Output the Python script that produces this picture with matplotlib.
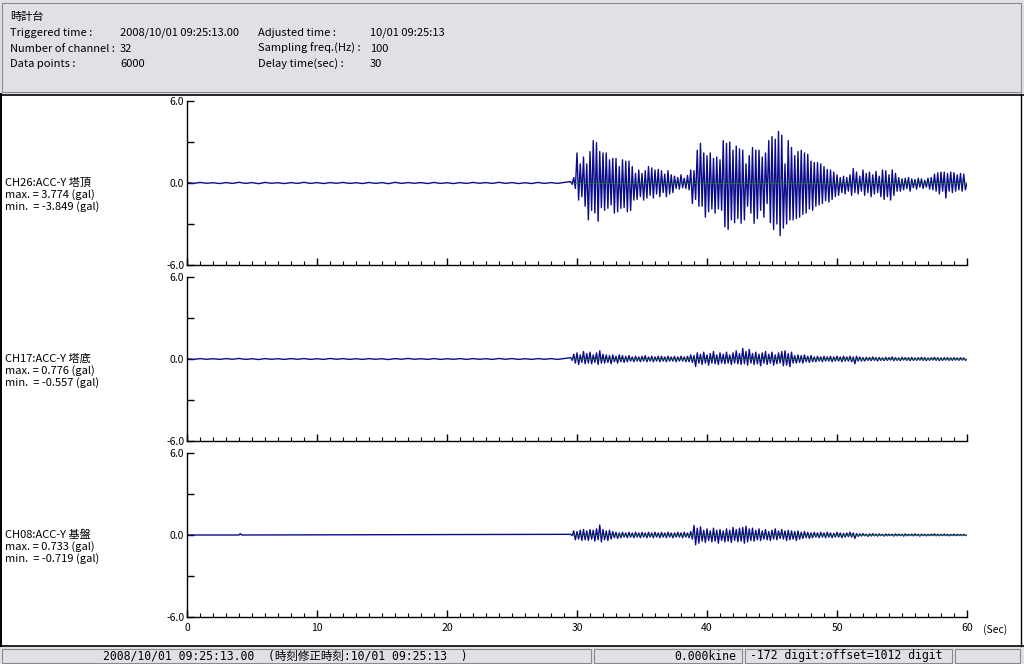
import numpy as np
import matplotlib.pyplot as plt
from matplotlib.patches import Rectangle
from matplotlib.lines import Line2D

plt.rcParams['font.family'] = ['Noto Sans CJK JP', 'DejaVu Sans']
plt.rcParams['axes.unicode_minus'] = False

W, H = 1024, 664

# ---- data (gal) ----
# quiet part before trigger: hi/lo pairs every 1 s starting at 0 s
top_quiet_hi = [0.03, 0.04, 0.02, 0.03, 0.05, 0.03, 0.04, 0.02, 0.03, 0.05,
                0.03, 0.03, 0.04, 0.02, 0.04, 0.03, 0.05, 0.03, 0.03, 0.04,
                0.02, 0.03, 0.04, 0.03, 0.05, 0.03, 0.02, 0.04, 0.03, 0.04]
top_quiet_lo = [-0.03, -0.02, -0.04, -0.03, -0.03, -0.05, -0.02, -0.04, -0.03, -0.03,
                -0.04, -0.02, -0.03, -0.04, -0.03, -0.05, -0.03, -0.02, -0.04, -0.03,
                -0.04, -0.03, -0.02, -0.03, -0.03, -0.04, -0.04, -0.03, -0.03, -0.05]
mid_quiet_hi = [0.02, 0.03, 0.02, 0.03, 0.04, 0.02, 0.03, 0.02, 0.03, 0.03,
                0.02, 0.04, 0.03, 0.02, 0.03, 0.02, 0.03, 0.04, 0.02, 0.03,
                0.02, 0.03, 0.03, 0.02, 0.04, 0.03, 0.02, 0.03, 0.03, 0.03]
mid_quiet_lo = [-0.03, -0.02, -0.03, -0.02, -0.03, -0.04, -0.02, -0.03, -0.02, -0.03,
                -0.03, -0.02, -0.03, -0.03, -0.02, -0.04, -0.02, -0.02, -0.03, -0.03,
                -0.02, -0.03, -0.02, -0.03, -0.02, -0.03, -0.03, -0.02, -0.03, -0.04]
bot_quiet_t = [0.0, 4.0, 4.1, 4.2, 29.5]
bot_quiet_v = [0.0, 0.0, 0.1, 0.0, 0.0]

# strong motion: hi/lo per 0.25 s cycle from 29.5 s to 60 s
t_trig = 29.5
top_hi = [0.1, 0.4, 2.2, 1.4, 1.9, 1.4, 2.3, 3.1, 2.95, 2.3,
          2.2, 2.2, 1.7, 1.8, 1.8, 1.2, 1.7, 1.6, 1.6, 1.2,
          0.7, 0.95, 0.7, 0.9, 1.2, 1.1, 0.95, 1.0, 0.9, 0.65,
          0.9, 0.6, 0.5, 0.4, 0.6, 0.35, 0.55, 0.95, 0.9, 2.4,
          2.9, 2.2, 2.0, 2.2, 1.8, 1.9, 1.7, 3.1, 2.9, 3.0,
          2.4, 2.7, 2.5, 2.4, 1.4, 2.0, 2.6, 2.4, 2.4, 1.9,
          2.2, 3.1, 3.4, 3.2, 3.77, 3.5, 1.4, 3.1, 2.6, 2.0,
          2.3, 2.4, 2.2, 2.1, 1.6, 1.5, 1.5, 1.4, 1.2, 1.0,
          0.95, 0.8, 0.6, 0.4, 0.5, 0.4, 0.6, 1.05, 0.8, 0.5,
          0.95, 0.7, 0.8, 0.6, 0.85, 0.5, 0.95, 0.9, 0.6, 0.95,
          0.7, 0.4, 0.3, 0.35, 0.4, 0.3, 0.25, 0.35, 0.3, 0.2,
          0.35, 0.4, 0.65, 0.75, 0.8, 0.8, 0.7, 0.8, 0.75, 0.6,
          0.7, 0.65]
top_lo = [-0.1, -0.4, -1.25, -1.0, -1.7, -2.7, -2.0, -2.2, -2.8, -1.8,
          -2.0, -1.85, -1.6, -2.2, -2.1, -1.85, -1.8, -2.1, -2.0, -1.25,
          -1.2, -1.0, -1.25, -1.1, -0.9, -1.1, -0.8, -1.0, -0.7, -1.0,
          -0.8, -0.7, -0.4, -0.45, -0.35, -0.4, -0.5, -1.5, -1.2, -1.7,
          -1.7, -2.5, -2.1, -1.9, -2.2, -1.9, -2.0, -3.2, -3.4, -2.7,
          -2.9, -2.6, -2.95, -2.7, -1.7, -2.2, -2.95, -2.6, -2.0, -2.5,
          -1.5, -2.9, -3.4, -3.0, -3.85, -3.3, -3.0, -2.7, -2.7, -2.6,
          -2.5, -2.3, -2.2, -1.9, -2.0, -1.7, -1.6, -1.5, -1.3, -1.4,
          -1.2, -1.0, -0.9, -0.7, -0.8, -0.6, -0.9, -0.7, -0.8, -0.6,
          -0.9, -0.7, -1.0, -0.8, -0.7, -1.0, -1.2, -1.0, -1.25, -0.9,
          -0.6, -0.6, -0.5, -0.4, -0.6, -0.35, -0.45, -0.3, -0.4, -0.3,
          -0.45, -0.5, -0.6, -0.8, -0.6, -1.1, -0.6, -0.7, -0.6, -0.5,
          -0.6, -0.5]
mid_hi = [0.1, 0.35, 0.45, 0.3, 0.55, 0.4, 0.5, 0.3, 0.45, 0.6,
          0.35, 0.3, 0.25, 0.3, 0.2, 0.3, 0.25, 0.2, 0.25, 0.15,
          0.2, 0.15, 0.2, 0.25, 0.15, 0.2, 0.15, 0.2, 0.2, 0.15,
          0.2, 0.15, 0.2, 0.15, 0.2, 0.15, 0.2, 0.3, 0.25, 0.45,
          0.35, 0.5, 0.3, 0.4, 0.55, 0.3, 0.45, 0.35, 0.5, 0.3,
          0.45, 0.6, 0.4, 0.78, 0.55, 0.7, 0.4, 0.5, 0.35, 0.45,
          0.55, 0.35, 0.5, 0.3, 0.45, 0.55, 0.6, 0.4, 0.5, 0.25,
          0.3, 0.25, 0.3, 0.2, 0.25, 0.15, 0.2, 0.15, 0.2, 0.15,
          0.2, 0.15, 0.2, 0.15, 0.2, 0.15, 0.2, 0.15, 0.2, 0.15,
          0.1, 0.12, 0.1, 0.15, 0.1, 0.12, 0.08, 0.12, 0.1, 0.15,
          0.1, 0.08, 0.12, 0.1, 0.1, 0.12, 0.08, 0.1, 0.12, 0.1,
          0.08, 0.1, 0.12, 0.1, 0.08, 0.1, 0.1, 0.08, 0.1, 0.08,
          0.1, 0.08]
mid_lo = [-0.1, -0.3, -0.4, -0.25, -0.35, -0.3, -0.35, -0.25, -0.4, -0.3,
          -0.3, -0.25, -0.35, -0.2, -0.3, -0.2, -0.25, -0.2, -0.15, -0.2,
          -0.15, -0.2, -0.15, -0.2, -0.15, -0.2, -0.15, -0.2, -0.15, -0.2,
          -0.15, -0.15, -0.2, -0.15, -0.15, -0.2, -0.2, -0.25, -0.55, -0.3,
          -0.4, -0.3, -0.45, -0.3, -0.35, -0.4, -0.3, -0.35, -0.3, -0.4,
          -0.3, -0.35, -0.4, -0.35, -0.45, -0.3, -0.4, -0.35, -0.5, -0.3,
          -0.4, -0.3, -0.45, -0.35, -0.3, -0.5, -0.45, -0.56, -0.3, -0.3,
          -0.25, -0.3, -0.2, -0.25, -0.2, -0.2, -0.15, -0.2, -0.15, -0.15,
          -0.2, -0.15, -0.15, -0.2, -0.15, -0.15, -0.2, -0.35, -0.15, -0.15,
          -0.15, -0.1, -0.12, -0.1, -0.15, -0.1, -0.12, -0.1, -0.08, -0.12,
          -0.1, -0.12, -0.08, -0.1, -0.12, -0.1, -0.1, -0.08, -0.1, -0.12,
          -0.1, -0.08, -0.1, -0.12, -0.1, -0.08, -0.1, -0.1, -0.08, -0.1,
          -0.08, -0.1]
bot_hi = [0.05, 0.3, 0.25, 0.35, 0.4, 0.3, 0.4, 0.35, 0.45, 0.73,
          0.4, 0.3, 0.35, 0.25, 0.2, 0.15, 0.2, 0.15, 0.2, 0.15,
          0.2, 0.15, 0.2, 0.15, 0.2, 0.15, 0.2, 0.15, 0.2, 0.15,
          0.2, 0.15, 0.15, 0.2, 0.15, 0.2, 0.15, 0.25, 0.7, 0.5,
          0.6, 0.35, 0.45, 0.3, 0.5, 0.35, 0.4, 0.3, 0.45, 0.35,
          0.55, 0.4, 0.5, 0.55, 0.65, 0.45, 0.5, 0.35, 0.45, 0.3,
          0.4, 0.25, 0.35, 0.45, 0.3, 0.4, 0.3, 0.35, 0.3, 0.25,
          0.3, 0.2, 0.25, 0.2, 0.15, 0.2, 0.15, 0.2, 0.15, 0.2,
          0.15, 0.12, 0.2, 0.15, 0.12, 0.15, 0.2, 0.15, 0.1, 0.08,
          0.1, 0.06, 0.08, 0.1, 0.06, 0.08, 0.05, 0.08, 0.06, 0.05,
          0.08, 0.06, 0.05, 0.08, 0.05, 0.06, 0.08, 0.05, 0.06, 0.05,
          0.04, 0.06, 0.08, 0.05, 0.04, 0.06, 0.05, 0.04, 0.06, 0.05,
          0.04, 0.05]
bot_lo = [-0.05, -0.35, -0.3, -0.4, -0.35, -0.4, -0.3, -0.45, -0.35, -0.5,
          -0.35, -0.4, -0.3, -0.2, -0.25, -0.2, -0.15, -0.2, -0.15, -0.2,
          -0.15, -0.2, -0.15, -0.2, -0.15, -0.2, -0.15, -0.2, -0.15, -0.2,
          -0.15, -0.2, -0.15, -0.15, -0.2, -0.15, -0.2, -0.3, -0.719, -0.6,
          -0.45, -0.55, -0.4, -0.5, -0.45, -0.6, -0.4, -0.5, -0.45, -0.55,
          -0.4, -0.5, -0.45, -0.6, -0.5, -0.4, -0.45, -0.35, -0.4, -0.3,
          -0.35, -0.4, -0.3, -0.35, -0.25, -0.3, -0.4, -0.35, -0.3, -0.4,
          -0.3, -0.25, -0.2, -0.25, -0.2, -0.15, -0.2, -0.15, -0.2, -0.15,
          -0.2, -0.15, -0.15, -0.2, -0.15, -0.12, -0.15, -0.25, -0.1, -0.08,
          -0.06, -0.1, -0.08, -0.06, -0.08, -0.05, -0.08, -0.06, -0.05, -0.08,
          -0.06, -0.05, -0.08, -0.06, -0.05, -0.06, -0.05, -0.08, -0.05, -0.06,
          -0.05, -0.04, -0.06, -0.05, -0.04, -0.05, -0.06, -0.04, -0.05, -0.04,
          -0.05, -0.04]

channels = ["CH26:ACC-Y 塔頂", "CH17:ACC-Y 塔底", "CH08:ACC-Y 基盤"]
ch_max = ["3.774", "0.776", "0.733"]
ch_min = ["-3.849", "-0.557", "-0.719"]
x_ticks = [0, 10, 20, 30, 40, 50, 60]
y_ticks = [-6.0, 0.0, 6.0]

header_rows = [
    ("Triggered time :", "2008/10/01 09:25:13.00", "Adjusted time :", "10/01 09:25:13"),
    ("Number of channel :", "32", "Sampling freq.(Hz) :", "100"),
    ("Data points :", "6000", "Delay time(sec) :", "30"),
]


def interleave(t0, hi, lo, dt):
    t = t0 + np.arange(len(hi)) * dt
    tt = np.empty(2 * len(hi))
    vv = np.empty(2 * len(hi))
    tt[0::2], tt[1::2] = t, t + dt / 2
    vv[0::2], vv[1::2] = hi, lo
    return tt, vv


def series(q_t, q_v, hi, lo):
    at, av = interleave(t_trig, hi, lo, 0.25)
    return np.concatenate([q_t, at, [60.0]]), np.concatenate([q_v, av, [0.0]])


qt, qv = interleave(0.0, top_quiet_hi, top_quiet_lo, 1.0)
s_top = series(qt[:-1], qv[:-1], top_hi, top_lo)
qt, qv = interleave(0.0, mid_quiet_hi, mid_quiet_lo, 1.0)
s_mid = series(qt[:-1], qv[:-1], mid_hi, mid_lo)
s_bot = series(np.array(bot_quiet_t[:-1]), np.array(bot_quiet_v[:-1]), bot_hi, bot_lo)
waves = [s_top, s_mid, s_bot]


def fx(px):
    return px / W


def fy(py):
    return 1 - py / H


fig = plt.figure(figsize=(W / 100, H / 100), dpi=100)
fig.patch.set_facecolor('white')
gray = '#e1e0e4'
fs = 8
fs_tick = 7.5

# header panel
fig.add_artist(Rectangle((0, fy(94)), 1, 94 / H, transform=fig.transFigure,
                         fc=gray, ec='none', zorder=0))
fig.add_artist(Rectangle((fx(2), fy(92)), fx(1019), 89 / H, transform=fig.transFigure,
                         fc='none', ec='#8a8a8a', lw=0.8, zorder=1))
fig.text(fx(10), fy(17), "時計台", fontsize=fs, va='center')
for i, row in enumerate(header_rows):
    y = fy(33 + i * 15.5)
    for xp, s in zip([10, 120, 258, 370], row):
        fig.text(fx(xp), y, s, fontsize=fs, va='center')

# white panel frame
for (x0, y0, x1, y1, c, lw) in [(0, 94.5, 1024, 94.5, 'black', 1.2),
                                 (0.7, 94, 0.7, 646, 'black', 1.4),
                                 (1020.5, 94, 1020.5, 646, 'black', 1.0),
                                 (0, 646, 1024, 646, 'black', 1.2)]:
    fig.add_artist(Line2D([fx(x0), fx(x1)], [fy(y0), fy(y1)], color=c, lw=lw,
                          transform=fig.transFigure))

# status bar
fig.add_artist(Rectangle((0, 0), 1, 17 / H, transform=fig.transFigure,
                         fc=gray, ec='none', zorder=0))
for (x0, x1) in [(2, 591), (594, 742), (745, 952), (955, 1020)]:
    fig.add_artist(Rectangle((fx(x0), fy(663)), fx(x1 - x0), 14 / H,
                             transform=fig.transFigure, fc='none', ec='#8a8a8a', lw=0.8))
mono = ['DejaVu Sans Mono', 'Noto Sans CJK JP']
fs_mono = 8.3
fig.text(fx(103), fy(656), "2008/10/01 09:25:13.00  (時刻修正時刻:10/01 09:25:13  )",
         fontsize=fs_mono, va='center', family=mono)
fig.text(fx(736), fy(656), "0.000kine", fontsize=fs_mono, va='center', ha='right', family=mono)
fig.text(fx(750), fy(656), "-172 digit:offset=1012 digit", fontsize=fs_mono, va='center',
         family=mono)

# wave panels
tops = [101, 277, 453]
for k, top in enumerate(tops):
    bot = top + 164
    ax = fig.add_axes([fx(187), fy(bot), fx(780), 164 / H])
    ax.set_facecolor('none')
    t, v = waves[k]
    ax.plot(t, v, color='#0c0c8a', lw=1.0)
    ax.plot([t_trig, 60], [0, 0], color='#1a8a1a', lw=0.5)
    ax.set_xlim(0, 60)
    ax.set_ylim(-6, 6)
    for s in ['top', 'right']:
        ax.spines[s].set_visible(False)
    ax.spines['left'].set_linewidth(1.0)
    ax.spines['bottom'].set_linewidth(1.0)
    ax.set_yticks(y_ticks)
    ax.set_yticklabels([f"{y:.1f}" for y in y_ticks])
    ax.set_yticks([-3, 3], minor=True)
    ax.set_xticks(x_ticks)
    ax.set_xticks(np.arange(0, 61, 1), minor=True)
    ax.tick_params(axis='both', which='major', direction='in', length=5, width=1,
                   labelsize=fs_tick, pad=2)
    ax.tick_params(axis='y', which='minor', direction='in', length=5, width=1)
    ax.tick_params(axis='x', which='minor', direction='in', length=3, width=0.8)
    if k < 2:
        ax.set_xticklabels([])
    else:
        ax.tick_params(axis='x', pad=4)
    yc = top + 82
    fig.text(fx(5), fy(yc), channels[k], fontsize=fs, va='center')
    fig.text(fx(5), fy(yc + 12), f"max. = {ch_max[k]} (gal)", fontsize=fs, va='center')
    fig.text(fx(5), fy(yc + 24), f"min.  = {ch_min[k]} (gal)", fontsize=fs, va='center')

fig.text(fx(983), fy(630), "(Sec)", fontsize=fs_tick, va='center')

fig.savefig("out.png", dpi=100)
